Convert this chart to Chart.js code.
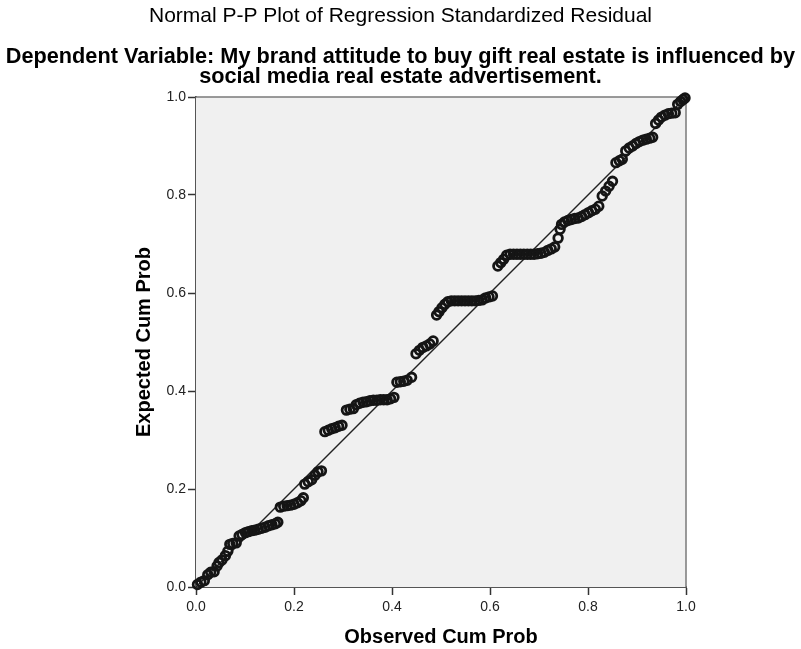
<!DOCTYPE html>
<html lang="en">
<head>
    <meta charset="UTF-8">
    <title>Normal P-P Plot of Regression Standardized Residual</title>
    <script src="https://cdn.jsdelivr.net/npm/chart.js"></script>
    <style>
        body {
            margin: 0;
            padding: 0;
            background: #ffffff;
        }
        .chart-box {
            width: 801px;
            height: 649px;
        }
    </style>
</head>
<body>
    <div class="chart-box">
        <canvas id="ppChart" width="801" height="649"></canvas>
    </div>

    <script>
        // Observed cumulative probability (x) and expected cumulative probability (y)
        const observed = [
            0.003, 0.010, 0.017, 0.024, 0.030, 0.037, 0.043, 0.047, 0.053, 0.060, 0.065, 0.069, 0.075, 0.082,
            0.088, 0.094, 0.101, 0.107, 0.114, 0.120, 0.127, 0.134, 0.141, 0.148, 0.155, 0.162, 0.167,
            0.172, 0.179, 0.186, 0.193, 0.200, 0.207, 0.214, 0.219,
            0.222, 0.229, 0.236, 0.243, 0.249, 0.256,
            0.263, 0.270, 0.277, 0.284, 0.291, 0.298,
            0.307, 0.314, 0.321, 0.327, 0.334, 0.341, 0.348, 0.355, 0.362, 0.369, 0.376, 0.383, 0.390, 0.397, 0.404,
            0.410, 0.417, 0.424, 0.431, 0.440,
            0.449, 0.456, 0.463, 0.470, 0.477, 0.484,
            0.491, 0.496, 0.502, 0.508, 0.514, 0.521, 0.528, 0.535, 0.542, 0.549, 0.556, 0.563, 0.570, 0.577,
            0.584, 0.591, 0.598, 0.605,
            0.616, 0.622, 0.628, 0.634, 0.641, 0.648, 0.655, 0.662, 0.669, 0.676, 0.683, 0.690, 0.697, 0.704,
            0.711, 0.718, 0.725, 0.732,
            0.739,
            0.743, 0.746, 0.752, 0.759, 0.766, 0.773, 0.780, 0.787, 0.794, 0.801, 0.808, 0.815,
            0.822, 0.829, 0.836, 0.843, 0.850,
            0.857, 0.864, 0.870,
            0.877, 0.884, 0.891, 0.898, 0.905, 0.912, 0.919, 0.926, 0.932,
            0.938, 0.944, 0.950, 0.957, 0.964, 0.971, 0.978,
            0.983, 0.989, 0.994, 0.998
        ];
        const expected = [
            0.005, 0.010, 0.013, 0.025, 0.030, 0.031, 0.043, 0.050, 0.055, 0.064, 0.073, 0.087, 0.089, 0.090,
            0.104, 0.107, 0.111, 0.113, 0.115, 0.116, 0.118, 0.120, 0.122, 0.125, 0.127, 0.129, 0.132,
            0.163, 0.165, 0.166, 0.167, 0.169, 0.172, 0.176, 0.182,
            0.210, 0.215, 0.219, 0.228, 0.235, 0.237,
            0.317, 0.320, 0.323, 0.325, 0.328, 0.330,
            0.361, 0.363, 0.364, 0.372, 0.375, 0.377, 0.378, 0.380, 0.381, 0.381, 0.382, 0.382, 0.382, 0.384, 0.387,
            0.418, 0.419, 0.420, 0.422, 0.428,
            0.476, 0.483, 0.489, 0.492, 0.496, 0.502,
            0.555, 0.562, 0.570, 0.577, 0.582, 0.584, 0.584, 0.584, 0.584, 0.584, 0.584, 0.584, 0.584, 0.585,
            0.586, 0.590, 0.592, 0.594,
            0.655, 0.662, 0.669, 0.677, 0.679, 0.679, 0.679, 0.679, 0.679, 0.679, 0.679, 0.679, 0.680, 0.681,
            0.683, 0.687, 0.690, 0.694,
            0.712,
            0.730, 0.740, 0.745, 0.748, 0.750, 0.752, 0.753, 0.756, 0.760, 0.764, 0.768, 0.771,
            0.777, 0.798, 0.808, 0.818, 0.828,
            0.866, 0.870, 0.873,
            0.890, 0.896, 0.900, 0.905, 0.909, 0.912, 0.914, 0.916, 0.918,
            0.946, 0.953, 0.959, 0.963, 0.966, 0.967, 0.968,
            0.985, 0.991, 0.995, 0.998
        ];
        // reference diagonal end points
        const diagonal = [0, 1];
        const tickValues = [0, 0.2, 0.4, 0.6, 0.8, 1.0];

        const fontFamily = '"Liberation Sans", Arial, sans-serif';

        // light grey plot area with a thin frame on top and right
        const plotFrame = {
            id: 'plotFrame',
            beforeDatasetsDraw(chart) {
                const {ctx, chartArea} = chart;
                ctx.save();
                ctx.fillStyle = '#f0f0f0';
                ctx.fillRect(chartArea.left, chartArea.top, chartArea.width, chartArea.height);
                ctx.strokeStyle = '#7a7a7a';
                ctx.lineWidth = 1.5;
                ctx.beginPath();
                ctx.moveTo(chartArea.left, chartArea.top);
                ctx.lineTo(chartArea.right, chartArea.top);
                ctx.lineTo(chartArea.right, chartArea.bottom);
                ctx.stroke();
                ctx.restore();
            }
        };

        const tickFont = {family: fontFamily, size: 14};

        const ctx = document.getElementById('ppChart').getContext('2d');
        new Chart(ctx, {
            type: 'scatter',
            data: {
                datasets: [
                    {
                        label: 'Residuals',
                        data: observed.map((x, i) => ({x: x, y: expected[i]})),
                        pointStyle: 'circle',
                        pointRadius: 4.3,
                        pointBorderWidth: 2.8,
                        borderColor: '#151515',
                        backgroundColor: 'rgba(0,0,0,0)',
                        clip: false
                    },
                    {
                        type: 'line',
                        label: 'Diagonal',
                        data: diagonal.map(v => ({x: v, y: v})),
                        borderColor: '#222222',
                        borderWidth: 1.4,
                        pointRadius: 0,
                        fill: false
                    }
                ]
            },
            options: {
                responsive: false,
                animation: false,
                devicePixelRatio: 1,
                layout: {
                    padding: {left: 0, right: 0, top: 0, bottom: 0}
                },
                plugins: {
                    legend: {display: false},
                    tooltip: {enabled: false},
                    title: {
                        display: true,
                        text: 'Normal P-P Plot of Regression Standardized Residual',
                        color: '#000000',
                        font: {family: fontFamily, size: 21, weight: 'normal', lineHeight: 1},
                        padding: {top: 6, bottom: 20.5}
                    },
                    subtitle: {
                        display: true,
                        text: [
                            'Dependent Variable: My brand attitude to buy gift real estate is influenced by',
                            'social media real estate advertisement.'
                        ],
                        color: '#000000',
                        font: {family: fontFamily, size: 21.7, weight: 'bold', lineHeight: '20px'},
                        padding: {top: 0, bottom: 9.5}
                    }
                },
                scales: {
                    x: {
                        type: 'linear',
                        min: 0,
                        max: 1,
                        afterFit(scale) { scale.height = 62; },
                        afterBuildTicks(scale) { scale.ticks = tickValues.map(v => ({value: v})); },
                        grid: {
                            drawOnChartArea: false,
                            drawTicks: true,
                            tickLength: 8,
                            tickColor: '#333333',
                            tickWidth: 1.5
                        },
                        border: {display: true, color: '#555555', width: 2},
                        ticks: {
                            autoSkip: false,
                            maxRotation: 0,
                            padding: 4,
                            color: '#222222',
                            font: tickFont,
                            callback: v => v.toFixed(1)
                        },
                        title: {
                            display: true,
                            text: 'Observed Cum Prob',
                            color: '#000000',
                            font: {family: fontFamily, size: 20, weight: 'bold', lineHeight: 1},
                            padding: {top: 0, bottom: 1.5}
                        }
                    },
                    y: {
                        type: 'linear',
                        position: 'left',
                        min: 0,
                        max: 1,
                        afterFit(scale) { scale.width = 196; },
                        afterBuildTicks(scale) { scale.ticks = tickValues.map(v => ({value: v})); },
                        grid: {
                            drawOnChartArea: false,
                            drawTicks: true,
                            tickLength: 8,
                            tickColor: '#333333',
                            tickWidth: 1.5
                        },
                        border: {display: true, color: '#555555', width: 2},
                        ticks: {
                            padding: 2,
                            color: '#222222',
                            font: tickFont,
                            callback: v => v.toFixed(1)
                        },
                        title: {
                            display: true,
                            text: 'Expected Cum Prob',
                            color: '#000000',
                            font: {family: fontFamily, size: 20, weight: 'bold', lineHeight: 1},
                            padding: {top: 134.5, bottom: 0}
                        }
                    },
                    // empty axis only used to keep the white margin on the right
                    yRight: {
                        type: 'linear',
                        position: 'right',
                        min: 0,
                        max: 1,
                        afterFit(scale) { scale.width = 115; },
                        grid: {display: false},
                        border: {display: false},
                        ticks: {display: false}
                    }
                }
            },
            plugins: [plotFrame]
        });
    </script>
</body>
</html>
